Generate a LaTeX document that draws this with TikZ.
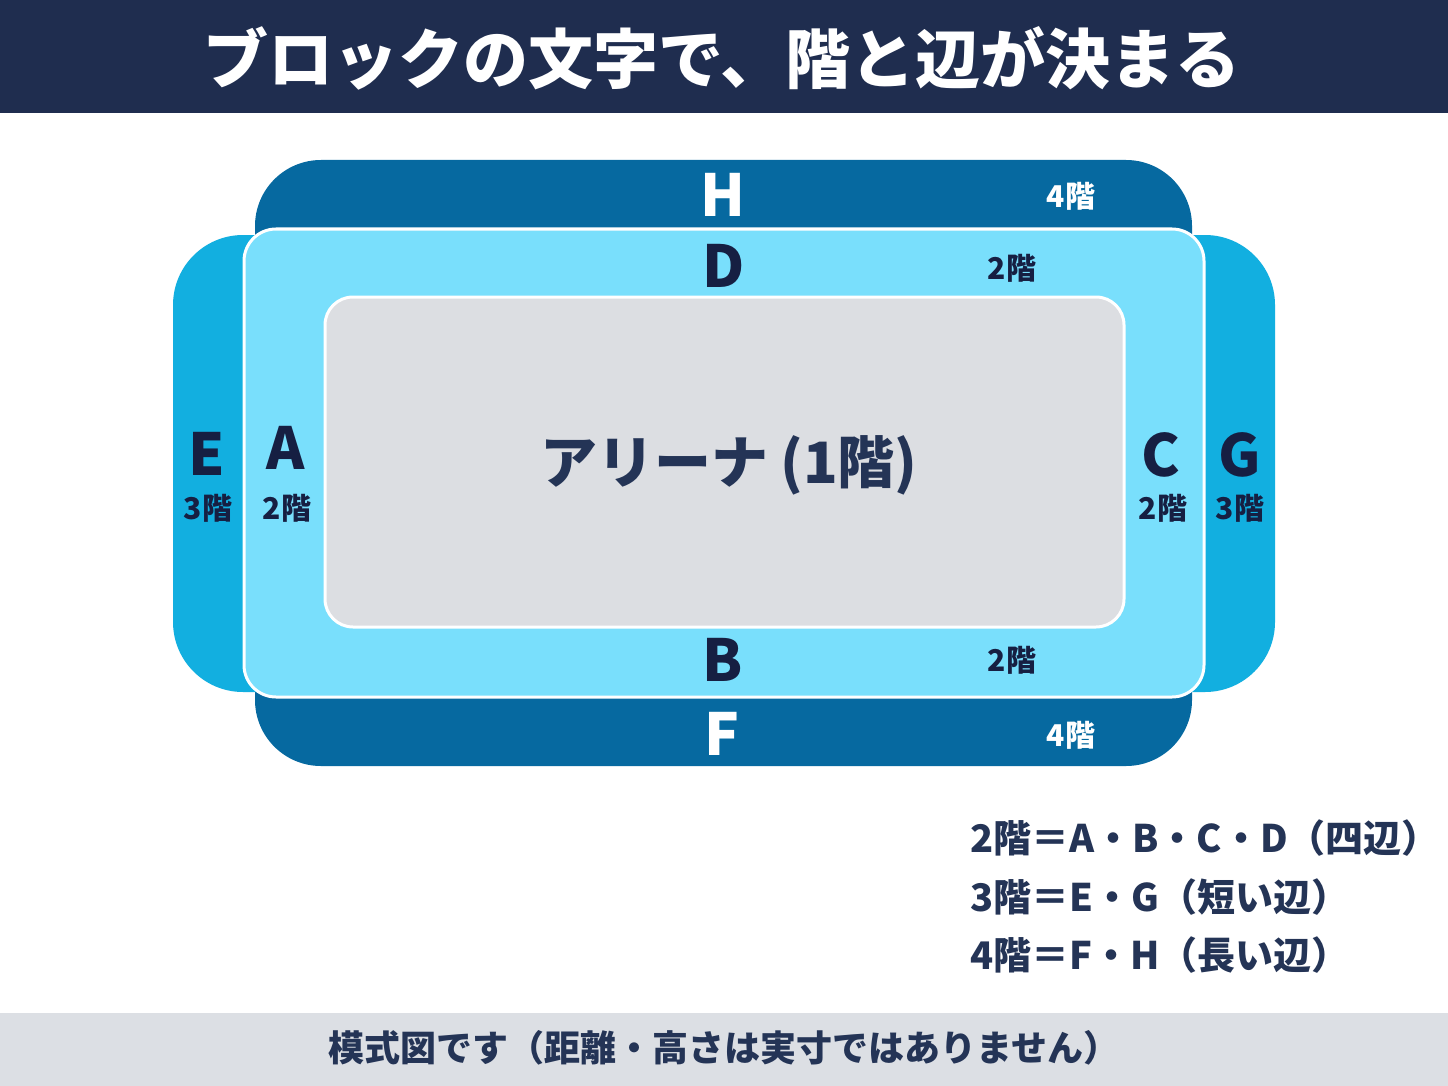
\documentclass[tikz,border=0pt]{standalone}
\usepackage{fontspec}
\setmainfont{Noto Sans CJK JP}
\definecolor{navy}{HTML}{1F2D4F}
\definecolor{ink}{HTML}{161F42}
\definecolor{legink}{HTML}{243456}
\definecolor{dblue}{HTML}{0669A0}
\definecolor{mblue}{HTML}{12AFE0}
\definecolor{lblue}{HTML}{79DFFC}
\definecolor{arena}{HTML}{DCDEE2}
\definecolor{footbg}{HTML}{DCDFE4}
\tikzset{
  big/.style={font=\bfseries\fontsize{58}{58}\selectfont, text=ink, inner sep=0pt},
  flr/.style={font=\bfseries\fontsize{30}{30}\selectfont, text=ink, inner sep=0pt},
  leg/.style={font=\bfseries\fontsize{38}{38}\selectfont, text=legink, inner sep=0pt, anchor=west},
}
\begin{document}
\begin{tikzpicture}[x=1pt,y=-1pt]
\useasboundingbox (0,0) rectangle (1448,1086);
\fill[white] (0,0) rectangle (1448,1086);
% title bar
\fill[navy] (0,0) rectangle (1448,113);
\node[font=\bfseries\fontsize{65}{65}\selectfont, text=white, inner sep=0pt] (title) at (722,58) {ブロックの文字で、階と辺が決まる};
% footer
\fill[footbg] (0,1013) rectangle (1448,1086);
\node[font=\bfseries\fontsize{36}{36}\selectfont, text=legink, inner sep=0pt] (foot) at (724,1048) {模式図です（距離・高さは実寸ではありません）};
% outer blocks
\fill[dblue] (255,270) [rounded corners=66pt] -- (255,160) -- (1192,160) [sharp corners] -- (1192,270) -- cycle;
\fill[dblue] (255,660) [rounded corners=66pt] -- (255,766) -- (1192,766) [sharp corners] -- (1192,660) -- cycle;
\fill[mblue] (300,235) [rounded corners=70pt] -- (173,235) -- (173,692) [sharp corners] -- (300,692) -- cycle;
\fill[mblue] (1150,235) [rounded corners=70pt] -- (1275,235) -- (1275,692) [sharp corners] -- (1150,692) -- cycle;
% 2F ring
\draw[white, line width=3pt, fill=lblue, rounded corners=32pt] (244,229) rectangle (1204,697);
% arena
\draw[white, line width=3pt, fill=arena, rounded corners=28pt] (325,297) rectangle (1124,627);
\node[font=\bfseries\fontsize{57}{57}\selectfont, text=legink, inner sep=0pt] (ar) at (729,465) {アリーナ\kern12pt(1階)};
% labels
\node[big, text=white] (H) at (723,195) {H};
\node[flr, text=white] (H4) at (1071,196) {4階};
\node[big] (D) at (724,266) {D};
\node[flr] (D2) at (1012,268) {2階};
\node[big] (B) at (723,660) {B};
\node[flr] (B2) at (1012,660) {2階};
\node[big, text=white] (F) at (722,734) {F};
\node[flr, text=white] (F4) at (1071,735) {4階};
\node[big] (E) at (207,454) {E};
\node[flr] (E3) at (208,508) {3階};
\node[big] (A) at (286,448) {A};
\node[flr] (A2) at (287,508) {2階};
\node[big] (C) at (1161,455) {C};
\node[flr] (C2) at (1163,508) {2階};
\node[big] (G) at (1240,455) {G};
\node[flr] (G3) at (1240,508) {3階};
% legend
\node[leg] (l1) at (970,838) {2階＝A・B・C・D（四辺）};
\node[leg] (l2) at (970,897) {3階＝E・G（短い辺）};
\node[leg] (l3) at (970,955) {4階＝F・H（長い辺）};
\end{tikzpicture}
\end{document}
